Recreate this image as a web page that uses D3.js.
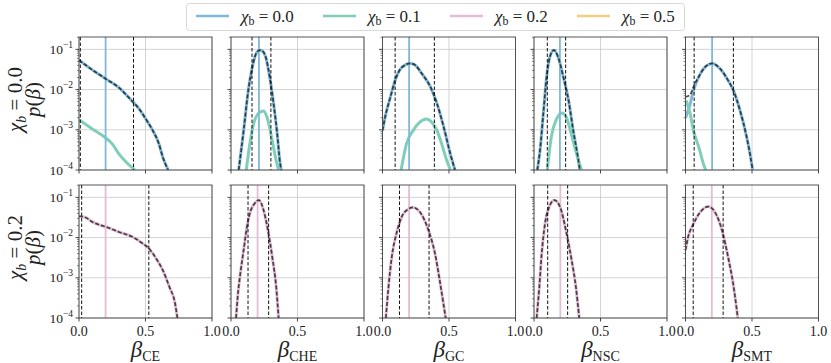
<!DOCTYPE html>
<html>
<head>
<meta charset="utf-8">
<script src="https://cdn.jsdelivr.net/npm/d3@7"></script>
<style>
  body { margin: 0; background: #fff; }
  text { font-family: "Liberation Serif", "DejaVu Serif", serif; }
</style>
</head>
<body>
<div id="vis"></div>
<script>
// ---- data ----
const channels = ["CE", "CHE", "GC", "NSC", "SMT"];
const rowValues = ["0.0", "0.2"];
const legendValues = ["0.0", "0.1", "0.2", "0.5"];
const legendColors = ["#7fb8d8", "#7fceb9", "#e5bcd6", "#f2cf7f"];
const xTicks = [0, 0.5, 1.0];
const xTickLabels = ["0.0", "0.5", "1.0"];
const yTicks = [1e-1, 1e-2, 1e-3, 1e-4];
const yTickExp = ["−1", "−2", "−3", "−4"];

// chi_b = 0.0 histograms, [beta, log10 p]
const hist00 = {
  CE: [[0,-1.27],[0.1,-1.51],[0.2,-1.73],[0.3,-1.95],[0.4,-2.29],[0.45,-2.47],[0.5,-2.72],[0.55,-2.99],[0.6,-3.34],[0.63,-3.68],[0.67,-4]],
  CHE: [[0.058,-4],[0.095,-3.02],[0.13,-2.02],[0.158,-1.48],[0.18,-1.18],[0.2,-1.05],[0.22,-1.02],[0.24,-1.05],[0.26,-1.18],[0.295,-1.77],[0.32,-2.35],[0.345,-3.02],[0.37,-3.85],[0.378,-4]],
  GC: [[0,-3.02],[0.02,-2.68],[0.06,-2.18],[0.095,-1.77],[0.145,-1.45],[0.21,-1.35],[0.245,-1.39],[0.295,-1.6],[0.36,-1.93],[0.41,-2.35],[0.46,-2.93],[0.51,-3.6],[0.545,-4]],
  NSC: [[0.025,-4],[0.045,-3.52],[0.07,-2.6],[0.095,-1.68],[0.12,-1.18],[0.15,-1.02],[0.18,-1.18],[0.22,-1.68],[0.26,-2.27],[0.295,-3.02],[0.33,-3.68],[0.345,-4]],
  SMT: [[0,-2.7],[0.03,-2.42],[0.06,-2.02],[0.1,-1.68],[0.15,-1.43],[0.2,-1.35],[0.26,-1.48],[0.32,-1.77],[0.36,-2.02],[0.41,-2.52],[0.46,-3.18],[0.485,-3.6],[0.505,-4]]
};
// chi_b = 0.1 histograms
const hist01 = {
  CE: [[0,-2.75],[0.1,-2.98],[0.2,-3.2],[0.25,-3.35],[0.3,-3.6],[0.35,-3.79],[0.42,-4]],
  CHE: [[0.115,-4],[0.145,-3.27],[0.17,-2.85],[0.21,-2.58],[0.245,-2.53],[0.27,-2.68],[0.31,-3.27],[0.34,-3.77],[0.358,-4]],
  GC: [[0.14,-4],[0.18,-3.35],[0.23,-3.02],[0.28,-2.81],[0.33,-2.73],[0.37,-2.81],[0.41,-3.02],[0.445,-3.35],[0.48,-3.73],[0.51,-4]],
  NSC: [[0.1,-4],[0.13,-3.18],[0.17,-2.73],[0.21,-2.58],[0.245,-2.7],[0.28,-3.1],[0.32,-3.6],[0.357,-4]],
  SMT: [[0.005,-2.27],[0.035,-2.6],[0.06,-3.02],[0.1,-3.43],[0.135,-3.85],[0.152,-4]]
};
// dashed model curves for chi_b = 0.0 (same as hist except near 0 in SMT)
const fit00 = Object.assign({}, hist00, {
  SMT: [[0,-2.18],[0.035,-2.13],[0.06,-1.93],[0.1,-1.68],[0.15,-1.43],[0.2,-1.35],[0.26,-1.48],[0.32,-1.77],[0.36,-2.02],[0.41,-2.52],[0.46,-3.18],[0.485,-3.6],[0.505,-4]]
});
// chi_b = 0.2 histograms
const hist02 = {
  CE: [[0,-1.47],[0.05,-1.5],[0.1,-1.61],[0.16,-1.69],[0.2,-1.73],[0.3,-1.86],[0.4,-1.98],[0.48,-2.15],[0.525,-2.27],[0.58,-2.52],[0.63,-2.81],[0.68,-3.23],[0.72,-3.6],[0.74,-4]],
  CHE: [[0.038,-4],[0.05,-3.48],[0.07,-2.9],[0.095,-2.31],[0.12,-1.73],[0.145,-1.36],[0.178,-1.15],[0.21,-1.07],[0.245,-1.32],[0.275,-1.77],[0.31,-2.48],[0.34,-3.23],[0.358,-4]],
  GC: [[0.025,-4],[0.045,-3.23],[0.07,-2.48],[0.108,-1.86],[0.145,-1.48],[0.195,-1.29],[0.23,-1.25],[0.28,-1.36],[0.35,-1.86],[0.395,-2.4],[0.43,-3.06],[0.458,-3.64],[0.475,-4]],
  NSC: [[0.02,-4],[0.04,-3.23],[0.058,-2.4],[0.083,-1.65],[0.115,-1.23],[0.153,-1.07],[0.195,-1.23],[0.245,-1.9],[0.283,-2.56],[0.315,-3.23],[0.34,-4]],
  SMT: [[0,-2.31],[0.02,-1.98],[0.058,-1.67],[0.108,-1.38],[0.17,-1.23],[0.22,-1.36],[0.278,-1.86],[0.32,-2.48],[0.358,-3.14],[0.383,-3.73],[0.393,-4]]
};

// vertical markers: injected value and 90% interval
const truthTop = { CE: 0.2, CHE: 0.21, GC: 0.2, NSC: 0.195, SMT: 0.2 };
const ciTop = { CE: [0.01, 0.41], CHE: [0.158, 0.30], GC: [0.095, 0.39], NSC: [0.1, 0.238], SMT: [0.065, 0.36] };
const truthBot = { CE: 0.2, CHE: 0.2, GC: 0.2, NSC: 0.198, SMT: 0.198 };
const ciBot = { CE: [0.02, 0.525], CHE: [0.128, 0.283], GC: [0.128, 0.35], NSC: [0.103, 0.253], SMT: [0.058, 0.283] };

// ---- layout ----
const W = 831, H = 363;
const panelW = 133, panelH = 133;
const lefts = [79, 231, 382.5, 534, 685.5];
const tops = [37, 185];
const FONT = '"Liberation Serif", "DejaVu Serif", serif';

const svg = d3.select('#vis').append('svg')
  .attr('width', W).attr('height', H)
  .attr('font-family', FONT);

const x = d3.scaleLinear().domain([0, 1]).range([0, panelW]);
const y = d3.scaleLog().domain([1e-4, 0.203]).range([panelH, 0]);

const line = d3.line()
  .x(d => x(d[0]))
  .y(d => y(Math.pow(10, d[1])))
  .curve(d3.curveMonotoneX);

const rows = [
  { hists: [[hist00, legendColors[0]], [hist01, legendColors[1]]], fit: fit00, truth: truthTop, ci: ciTop, tcolor: legendColors[0] },
  { hists: [[hist02, legendColors[2]]], fit: hist02, truth: truthBot, ci: ciBot, tcolor: legendColors[2] }
];

const minorTicks = [];
[1e-4, 1e-3, 1e-2, 1e-1].forEach(d => {
  for (let k = 2; k <= 9; k++) if (d * k < 0.203) minorTicks.push(d * k);
});

svg.append('defs').append('clipPath').attr('id', 'clip')
  .append('rect').attr('width', panelW).attr('height', panelH);

rows.forEach((row, r) => {
  channels.forEach((ch, c) => {
    const g = svg.append('g').attr('transform', `translate(${lefts[c]},${tops[r]})`);

    // grid
    g.selectAll('.gx').data(xTicks).enter().append('line')
      .attr('x1', d => x(d)).attr('x2', d => x(d))
      .attr('y1', 0).attr('y2', panelH)
      .attr('stroke', '#c8c8c8').attr('stroke-width', 0.8);
    g.selectAll('.gy').data(yTicks).enter().append('line')
      .attr('x1', 0).attr('x2', panelW)
      .attr('y1', d => y(d)).attr('y2', d => y(d))
      .attr('stroke', '#c8c8c8').attr('stroke-width', 0.8);

    const plot = g.append('g').attr('clip-path', 'url(#clip)');

    // histograms
    row.hists.forEach(([h, col]) => {
      plot.append('path').datum(h[ch])
        .attr('d', line).attr('fill', 'none')
        .attr('stroke', col).attr('stroke-width', 3);
    });

    // injected value
    plot.append('line')
      .attr('x1', x(row.truth[ch])).attr('x2', x(row.truth[ch]))
      .attr('y1', 0).attr('y2', panelH)
      .attr('stroke', row.tcolor).attr('stroke-width', 1.8);

    // interval
    row.ci[ch].forEach(v => {
      plot.append('line')
        .attr('x1', x(v)).attr('x2', x(v))
        .attr('y1', 0).attr('y2', panelH)
        .attr('stroke', '#111').attr('stroke-width', 1)
        .attr('stroke-dasharray', '3.5,2');
    });

    // dashed model curve
    plot.append('path').datum(row.fit[ch])
      .attr('d', line).attr('fill', 'none')
      .attr('stroke', '#111').attr('stroke-opacity', 0.75)
      .attr('stroke-width', 1.7).attr('stroke-dasharray', '4,2');

    // frame
    g.append('rect').attr('width', panelW).attr('height', panelH)
      .attr('fill', 'none').attr('stroke', '#444').attr('stroke-width', 0.9);

    // ticks
    g.selectAll('.tx').data(xTicks).enter().append('line')
      .attr('x1', d => x(d)).attr('x2', d => x(d))
      .attr('y1', panelH).attr('y2', panelH + 3.5)
      .attr('stroke', '#333').attr('stroke-width', 0.9);
    g.selectAll('.ty').data(yTicks).enter().append('line')
      .attr('x1', -3.5).attr('x2', 0)
      .attr('y1', d => y(d)).attr('y2', d => y(d))
      .attr('stroke', '#333').attr('stroke-width', 0.9);
    g.selectAll('.tm').data(minorTicks).enter().append('line')
      .attr('x1', -2).attr('x2', 0)
      .attr('y1', d => y(d)).attr('y2', d => y(d))
      .attr('stroke', '#333').attr('stroke-width', 0.6);

    // y tick labels, first column only
    if (c === 0) {
      yTicks.forEach((d, i) => {
        const t = g.append('text')
          .attr('x', -6).attr('y', y(d) + 4.5)
          .attr('text-anchor', 'end')
          .attr('font-size', 13.5).attr('fill', '#222');
        t.append('tspan').text('10');
        t.append('tspan').attr('dy', -6).attr('font-size', 9.5).text(yTickExp[i]);
      });
    }

    // x tick labels and label, bottom row only
    if (r === 1) {
      g.selectAll('.lx').data(xTicks).enter().append('text')
        .attr('x', d => x(d)).attr('y', panelH + 18)
        .attr('text-anchor', 'middle')
        .attr('font-size', 14).attr('fill', '#222')
        .text((d, i) => xTickLabels[i]);
      const xl = g.append('text')
        .attr('x', panelW / 2).attr('y', panelH + 39)
        .attr('text-anchor', 'middle').attr('fill', '#222');
      xl.append('tspan').attr('font-size', 23).attr('font-style', 'italic').text('β');
      xl.append('tspan').attr('font-size', 14).attr('dy', 4).text(ch);
    }
  });

  // row label
  const cy = tops[r] + panelH / 2 - 4;
  const lab = svg.append('text')
    .attr('transform', `translate(22,${cy}) rotate(-90)`)
    .attr('text-anchor', 'middle').attr('font-size', 21).attr('fill', '#222');
  lab.append('tspan').attr('font-style', 'italic').text('χ');
  lab.append('tspan').attr('font-style', 'italic').attr('font-size', 14).attr('dy', 4).text('b');
  lab.append('tspan').attr('dy', -4).text(' = ' + rowValues[r]);
  const lab2 = svg.append('text')
    .attr('transform', `translate(40,${cy}) rotate(-90)`)
    .attr('text-anchor', 'middle').attr('font-size', 21).attr('fill', '#222');
  lab2.append('tspan').attr('font-style', 'italic').text('p');
  lab2.append('tspan').text('(');
  lab2.append('tspan').attr('font-style', 'italic').text('β');
  lab2.append('tspan').text(')');
});

// legend
const leg = svg.append('g');
leg.append('rect')
  .attr('x', 186.5).attr('y', 3.5).attr('width', 498).attr('height', 27)
  .attr('rx', 3).attr('fill', '#fff').attr('stroke', '#d8d8d8');
legendValues.forEach((v, i) => {
  const lx = 196 + i * 127;
  leg.append('line')
    .attr('x1', lx).attr('x2', lx + 33).attr('y1', 16).attr('y2', 16)
    .attr('stroke', legendColors[i]).attr('stroke-width', 2.6);
  const t = leg.append('text')
    .attr('x', lx + 45).attr('y', 21.5)
    .attr('font-size', 17).attr('fill', '#222');
  t.append('tspan').attr('font-style', 'italic').text('χ');
  t.append('tspan').attr('font-size', 12).attr('dy', 3).text('b');
  t.append('tspan').attr('dy', -3).text(' = ' + v);
});
</script>
</body>
</html>
